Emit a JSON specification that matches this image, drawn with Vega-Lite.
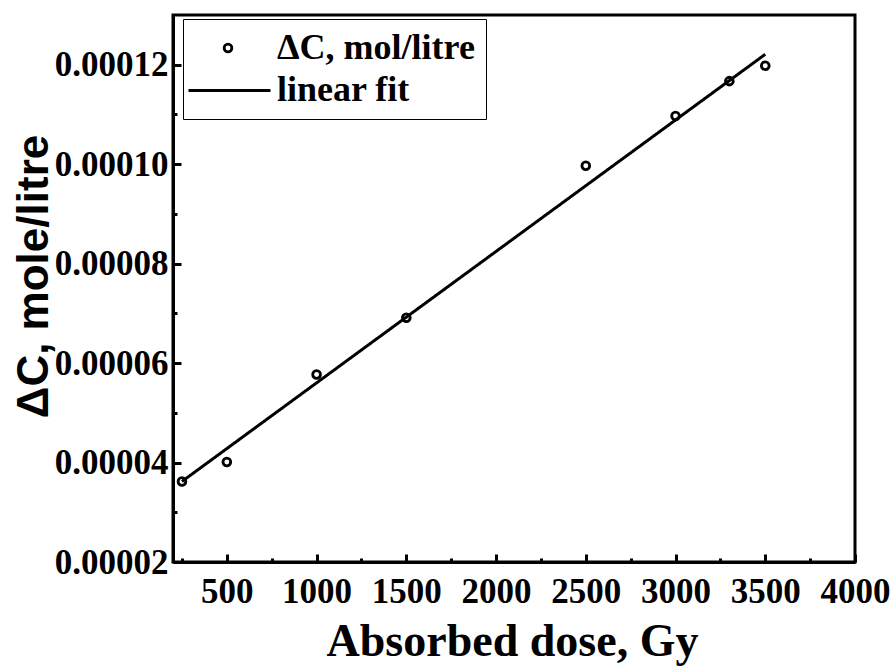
{
  "$schema": "https://vega.github.io/schema/vega-lite/v6.json",
  "width": 682,
  "height": 547,
  "autosize": {"type": "none"},
  "padding": {"left": 173, "top": 15, "right": 39, "bottom": 104},
  "background": "white",
  "config": {"view": {"stroke": "black", "strokeWidth": 3}},
  "datasets": {
    "pts": [
      {"dose": 250, "dc": 0.0000362, "series": "ΔC, mol/litre"},
      {"dose": 500, "dc": 0.0000401, "series": "ΔC, mol/litre"},
      {"dose": 1000, "dc": 0.0000577, "series": "ΔC, mol/litre"},
      {"dose": 1500, "dc": 0.0000691, "series": "ΔC, mol/litre"},
      {"dose": 2500, "dc": 0.0000997, "series": "ΔC, mol/litre"},
      {"dose": 3000, "dc": 0.0001097, "series": "ΔC, mol/litre"},
      {"dose": 3300, "dc": 0.0001167, "series": "ΔC, mol/litre"},
      {"dose": 3500, "dc": 0.0001198, "series": "ΔC, mol/litre"}
    ],
    "fit": [
      {"dose": 250, "dc": 0.0000362, "series": "linear fit"},
      {"dose": 3500, "dc": 0.0001221, "series": "linear fit"}
    ]
  },
  "resolve": {"axis": {"x": "independent", "y": "independent"}},
  "layer": [
    {
      "data": {"name": "pts"},
      "mark": {"type": "point", "shape": "circle", "filled": false, "size": 60, "strokeWidth": 2.8, "opacity": 1},
      "encoding": {
        "x": {
          "field": "dose", "type": "quantitative",
          "scale": {"domain": [200, 4000], "nice": false, "zero": false},
          "axis": {
            "orient": "bottom",
            "values": [500, 1000, 1500, 2000, 2500, 3000, 3500, 4000],
            "format": "d",
            "grid": false, "ticks": false,
            "domainColor": "black", "domainWidth": 3,
            "labelFont": "Liberation Serif", "labelFontSize": 35, "labelFontWeight": "bold", "labelColor": "black",
            "labelPadding": 12, "labelFlush": false, "labelOverlap": false,
            "title": "Absorbed dose, Gy",
            "titleFont": "Liberation Serif", "titleFontSize": 46, "titleFontWeight": "bold", "titleColor": "black",
            "titleX": 339, "titleY": 93, "titleAlign": "center", "titleBaseline": "alphabetic"
          }
        },
        "y": {
          "field": "dc", "type": "quantitative",
          "scale": {"domain": [0.00002, 0.00013], "nice": false, "zero": false},
          "axis": {
            "orient": "left",
            "values": [0.00002, 0.00004, 0.00006, 0.00008, 0.0001, 0.00012],
            "format": ".5f",
            "grid": false, "ticks": false,
            "domainColor": "black", "domainWidth": 3,
            "labelFont": "Liberation Serif", "labelFontSize": 35, "labelFontWeight": "bold", "labelColor": "black",
            "labelPadding": 5, "labelFlush": false, "labelOverlap": false,
            "title": "ΔC, mole/litre",
            "titleFont": "Liberation Sans", "titleFontSize": 44, "titleFontWeight": "bold", "titleColor": "black",
            "titleAngle": -90,
            "titleX": -126, "titleY": 261, "titleAlign": "center", "titleBaseline": "alphabetic"
          }
        },
        "color": {
          "field": "series", "type": "nominal",
          "scale": {"domain": ["ΔC, mol/litre", "linear fit"], "range": ["black", "transparent"]},
          "legend": {
            "title": null,
            "orient": "none", "legendX": 10, "legendY": 4,
            "strokeColor": "black",
            "padding": 11,
            "symbolType": "circle", "symbolSize": 60, "symbolStrokeWidth": 2.8,
            "symbolOffset": 16,
            "labelFont": "Liberation Serif", "labelFontSize": 36, "labelFontWeight": "bold", "labelColor": "black",
            "labelLimit": 0,
            "labelOffset": 31, "rowPadding": 6
          }
        }
      }
    },
    {
      "data": {"name": "fit"},
      "mark": {"type": "line", "strokeWidth": 3, "color": "black"},
      "encoding": {
        "x": {
          "field": "dose", "type": "quantitative",
          "axis": {
            "orient": "bottom",
            "values": [250, 500, 750, 1000, 1250, 1500, 1750, 2000, 2250, 2500, 2750, 3000, 3250, 3500, 3750, 4000],
            "grid": false, "domain": false, "labels": false, "title": null,
            "tickColor": "black", "tickWidth": 3,
            "tickSize": {"condition": {"test": "datum.value % 500 === 0", "value": -8}, "value": -4}
          }
        },
        "y": {
          "field": "dc", "type": "quantitative",
          "axis": {
            "orient": "left",
            "values": [0.00002, 0.00003, 0.00004, 0.00005, 0.00006, 0.00007, 0.00008, 0.00009, 0.0001, 0.00011, 0.00012],
            "grid": false, "domain": false, "labels": false, "title": null,
            "tickColor": "black", "tickWidth": 3,
            "tickSize": {"condition": {"test": "round(datum.value * 100000) % 2 === 0", "value": -8}, "value": -4}
          }
        },
        "strokeDash": {
          "field": "series", "type": "nominal",
          "scale": {"domain": ["linear fit"], "range": [[1, 0]]},
          "legend": {
            "title": null,
            "orient": "none", "legendX": 14, "legendY": 33,
            "padding": 0,
            "symbolType": "stroke", "symbolSize": 6724, "symbolStrokeWidth": 3, "symbolStrokeColor": "black",
            "labelFontSize": 36, "labelOpacity": 0, "labelLimit": 0, "labelExpr": "''"
          }
        }
      }
    }
  ]
}
